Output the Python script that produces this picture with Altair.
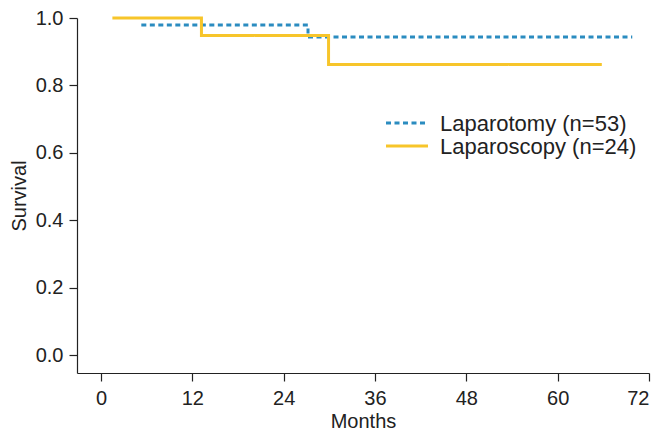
import altair as alt
import pandas as pd

groups = ["Laparotomy (n=53)", "Laparoscopy (n=24)"]
colors = ["#2b8cc0", "#f7c52a"]
dashes = [[5, 3.5], [1, 0]]

lapt_months = [5.3, 27.2, 69.8]
lapt_surv = [0.979, 0.944, 0.944]
laps_months = [1.5, 13.2, 29.9, 65.8]
laps_surv = [1.0, 0.948, 0.862, 0.862]

x_ticks = [0, 12, 24, 36, 48, 60, 72]
y_ticks = [0.0, 0.2, 0.4, 0.6, 0.8, 1.0]

rows = []
for m, s in zip(lapt_months, lapt_surv):
    rows.append({"group": groups[0], "months": m, "survival": s, "order": 0})
for m, s in zip(laps_months, laps_surv):
    rows.append({"group": groups[1], "months": m, "survival": s, "order": 1})
df = pd.DataFrame(rows)

FONT = "Liberation Sans"

lines = alt.Chart(df).mark_line(interpolate="step-after", strokeWidth=3).encode(
    x=alt.X("months:Q",
            scale=alt.Scale(domain=[-3.15, 72], nice=False, zero=False),
            axis=alt.Axis(values=x_ticks, title="Months", grid=False,
                          tickSize=8, labelPadding=7, titlePadding=3)),
    y=alt.Y("survival:Q",
            scale=alt.Scale(domain=[-0.052, 1.0], nice=False, zero=False),
            axis=alt.Axis(values=y_ticks, format=".1f", title="Survival", grid=False,
                          tickSize=8, labelPadding=6, titlePadding=6)),
    color=alt.Color("group:N", scale=alt.Scale(domain=groups, range=colors), legend=None),
    strokeDash=alt.StrokeDash("group:N", scale=alt.Scale(domain=groups, range=dashes),
                              legend=None),
    order="order:Q",
)

layers = [lines]
for i, g in enumerate(groups):
    ly = 105 + 23 * i
    gdf = pd.DataFrame({"label": [g]})
    layers.append(
        alt.Chart(gdf).mark_rule(strokeWidth=3, color=colors[i], strokeDash=dashes[i]).encode(
            x=alt.value(309), x2=alt.value(351), y=alt.value(ly)
        )
    )
    layers.append(
        alt.Chart(gdf).mark_text(align="left", baseline="middle", font=FONT, fontSize=22,
                                 color="#222222").encode(
            x=alt.value(363), y=alt.value(ly + 1), text="label:N"
        )
    )

chart = alt.layer(*layers).properties(
    width=572, height=355,
    autosize=alt.AutoSizeParams(type="none"),
    padding={"left": 69, "top": 10, "right": 4, "bottom": 59},
).configure_view(stroke=None).configure_axis(
    domainColor="#222222", tickColor="#222222", labelColor="#222222", titleColor="#222222",
    labelFont=FONT, titleFont=FONT, labelFontSize=20, titleFontSize=20,
    titleFontWeight="normal", domainWidth=1.2, tickWidth=1.2,
)

chart.save("out.html", embed_options={"renderer": "svg", "actions": False})
